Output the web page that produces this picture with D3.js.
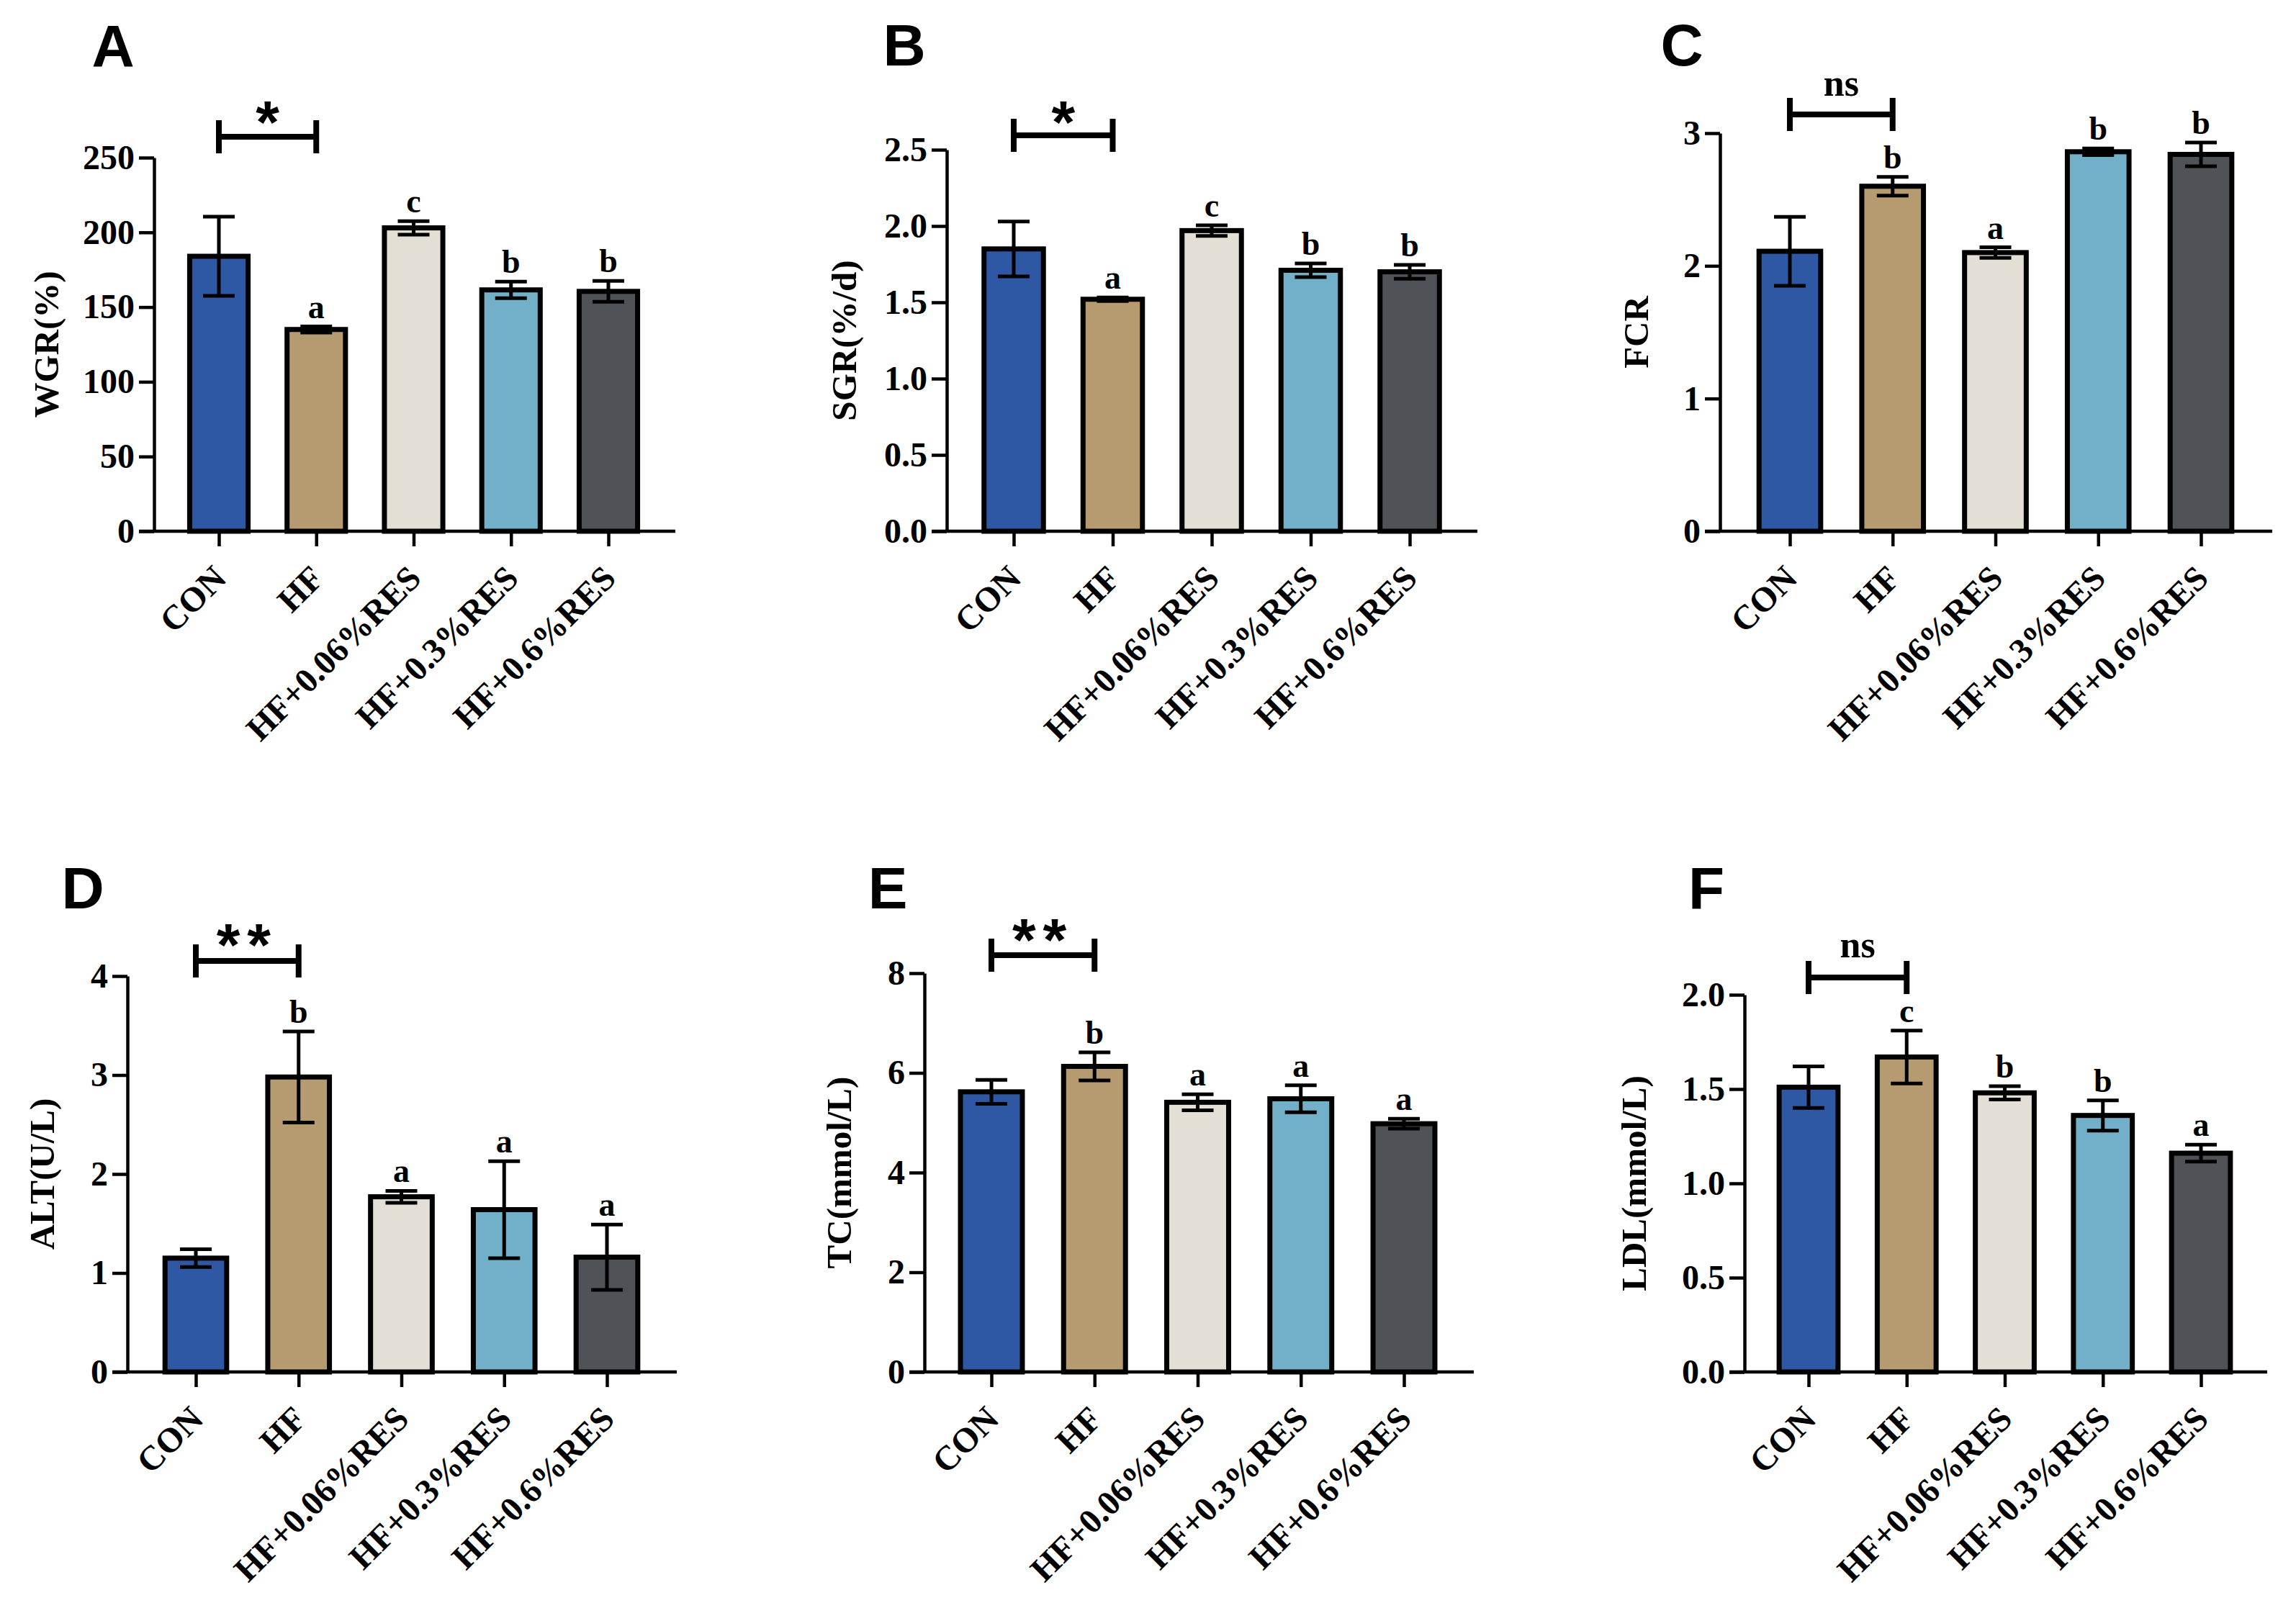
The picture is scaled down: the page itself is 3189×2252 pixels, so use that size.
<!DOCTYPE html>
<html>
<head>
<meta charset="utf-8">
<script src="https://cdn.jsdelivr.net/npm/d3@7"></script>
<style>
  body { margin: 0; background: #fff; }
  text { font-family: "Liberation Serif", "Times New Roman", serif; font-weight: bold; fill: #000; }
  .tag, .star { font-family: "Liberation Sans", Arial, sans-serif; }
</style>
</head>
<body>
<svg id="fig" width="3189" height="2252"></svg>
<script>
// Groups and colours
var groups = ["CON", "HF", "HF+0.06%RES", "HF+0.3%RES", "HF+0.6%RES"];
var colors = ["#2f58a4", "#b59b6f", "#e3dfd4", "#72afc9", "#4f5257"];

// Panel A - WGR
var wgrMean = [184, 135, 203, 161.5, 160.5];
var wgrSd = [26.5, 2, 4.5, 5.5, 7];
var wgrLetters = ["", "a", "c", "b", "b"];
var wgrTicks = [0, 50, 100, 150, 200, 250];

// Panel B - SGR
var sgrMean = [1.85, 1.52, 1.97, 1.71, 1.70];
var sgrSd = [0.18, 0.012, 0.035, 0.045, 0.045];
var sgrLetters = ["", "a", "c", "b", "b"];
var sgrTicks = [0, 0.5, 1.0, 1.5, 2.0, 2.5];

// Panel C - FCR
var fcrMean = [2.11, 2.60, 2.10, 2.86, 2.84];
var fcrSd = [0.26, 0.07, 0.04, 0.025, 0.09];
var fcrLetters = ["", "b", "a", "b", "b"];
var fcrTicks = [0, 1, 2, 3];

// Panel D - ALT
var altMean = [1.15, 2.98, 1.77, 1.64, 1.16];
var altSd = [0.09, 0.46, 0.06, 0.49, 0.33];
var altLetters = ["", "b", "a", "a", "a"];
var altTicks = [0, 1, 2, 3, 4];

// Panel E - TC
var tcMean = [5.62, 6.13, 5.41, 5.48, 4.98];
var tcSd = [0.24, 0.28, 0.16, 0.27, 0.10];
var tcLetters = ["", "b", "a", "a", "a"];
var tcTicks = [0, 2, 4, 6, 8];

// Panel F - LDL
var ldlMean = [1.51, 1.67, 1.48, 1.36, 1.16];
var ldlSd = [0.11, 0.14, 0.035, 0.08, 0.045];
var ldlLetters = ["", "c", "b", "b", "a"];
var ldlTicks = [0, 0.5, 1.0, 1.5, 2.0];

// CON vs HF comparison labels
var sigLabels = ["*", "*", "ns", "**", "**", "ns"];

var panels = [
  {tag: "A", title: "WGR(%)", mean: wgrMean, sd: wgrSd, letters: wgrLetters, ticks: wgrTicks, fmt: "d",
   x0: 214, x1: 938, c0: 304, c1: 845, yTop: 219, yZero: 738, tagX: 157, tagY: 92, titleX: 64, brY: 190, sigY: 199},
  {tag: "B", title: "SGR(%/d)", mean: sgrMean, sd: sgrSd, letters: sgrLetters, ticks: sgrTicks, fmt: ".1f",
   x0: 1315, x1: 2052, c0: 1408, c1: 1958, yTop: 208, yZero: 738, tagX: 1256, tagY: 91, titleX: 1172, brY: 188, sigY: 199},
  {tag: "C", title: "FCR", mean: fcrMean, sd: fcrSd, letters: fcrLetters, ticks: fcrTicks, fmt: "d",
   x0: 2389, x1: 3156, c0: 2486, c1: 3057, yTop: 185, yZero: 738, tagX: 2336, tagY: 91, titleX: 2272, brY: 159, sigY: 133},
  {tag: "D", title: "ALT(U/L)", mean: altMean, sd: altSd, letters: altLetters, ticks: altTicks, fmt: "d",
   x0: 177, x1: 940, c0: 272, c1: 843, yTop: 1356, yZero: 1906, tagX: 115, tagY: 1262, titleX: 58, brY: 1335, sigY: 1342},
  {tag: "E", title: "TC(mmol/L)", mean: tcMean, sd: tcSd, letters: tcLetters, ticks: tcTicks, fmt: "d",
   x0: 1284, x1: 2047, c0: 1377, c1: 1950, yTop: 1352, yZero: 1906, tagX: 1233, tagY: 1262, titleX: 1165, brY: 1327, sigY: 1335},
  {tag: "F", title: "LDL(mmol/L)", mean: ldlMean, sd: ldlSd, letters: ldlLetters, ticks: ldlTicks, fmt: ".1f",
   x0: 2423, x1: 3149, c0: 2512, c1: 3057, yTop: 1382, yZero: 1906, tagX: 2370, tagY: 1263, titleX: 2269, brY: 1358, sigY: 1330}
];

var svg = d3.select("#fig");
svg.append("rect").attr("width", 3189).attr("height", 2252).attr("fill", "#fff");

panels.forEach(function(p, i) {
  var g = svg.append("g");
  var ymax = p.ticks[p.ticks.length - 1];

  var x = d3.scalePoint().domain(groups).range([p.c0, p.c1]);
  var y = d3.scaleLinear().domain([0, ymax]).range([p.yZero, p.yTop]);
  var step = x.step();
  var bw = step * 0.6;

  // bars
  g.selectAll("rect.bar")
    .data(groups)
    .enter()
    .append("rect")
    .attr("class", "bar")
    .attr("x", (d) => x(d) - bw / 2)
    .attr("y", (d, j) => y(p.mean[j]))
    .attr("width", bw)
    .attr("height", (d, j) => p.yZero - y(p.mean[j]))
    .attr("fill", (d, j) => colors[j])
    .attr("stroke", "#000")
    .attr("stroke-width", 7);

  // error bars
  var eb = g.selectAll("g.err")
    .data(groups)
    .enter()
    .append("g")
    .attr("class", "err")
    .attr("stroke", "#000")
    .attr("stroke-width", 5);
  eb.append("line")
    .attr("x1", (d) => x(d)).attr("x2", (d) => x(d))
    .attr("y1", (d, j) => y(p.mean[j] - p.sd[j]))
    .attr("y2", (d, j) => y(p.mean[j] + p.sd[j]));
  eb.append("line")
    .attr("x1", (d) => x(d) - 22).attr("x2", (d) => x(d) + 22)
    .attr("y1", (d, j) => y(p.mean[j] + p.sd[j]))
    .attr("y2", (d, j) => y(p.mean[j] + p.sd[j]));
  eb.append("line")
    .attr("x1", (d) => x(d) - 22).attr("x2", (d) => x(d) + 22)
    .attr("y1", (d, j) => y(p.mean[j] - p.sd[j]))
    .attr("y2", (d, j) => y(p.mean[j] - p.sd[j]));

  // letters above error bars
  g.selectAll("text.letter")
    .data(groups)
    .enter()
    .append("text")
    .attr("class", "letter")
    .attr("x", (d) => x(d))
    .attr("y", (d, j) => y(p.mean[j] + p.sd[j]) - 12)
    .attr("text-anchor", "middle")
    .attr("font-size", 46)
    .text((d, j) => p.letters[j]);

  // y axis
  var yAxis = d3.axisLeft(y)
    .tickValues(p.ticks)
    .tickFormat(d3.format(p.fmt))
    .tickSize(21)
    .tickPadding(6)
    .tickSizeOuter(0);
  var ya = g.append("g")
    .attr("transform", "translate(" + p.x0 + ",0)")
    .call(yAxis);
  ya.selectAll("path, line").attr("stroke", "#000").attr("stroke-width", 4.5);
  ya.selectAll("text")
    .attr("font-size", 48)
    .style("font-family", '"Liberation Serif", "Times New Roman", serif')
    .style("font-weight", "bold");

  // x axis
  var xAxis = d3.axisBottom(x).tickSize(21).tickSizeOuter(0).tickFormat("");
  var xa = g.append("g")
    .attr("transform", "translate(0," + p.yZero + ")")
    .call(xAxis);
  xa.select("path.domain").remove();
  xa.append("line")
    .attr("x1", p.x0 - 21).attr("x2", p.x1)
    .attr("stroke", "#000").attr("stroke-width", 4.5);
  xa.selectAll("line").attr("stroke", "#000").attr("stroke-width", 4.5);

  // rotated category labels
  g.selectAll("text.cat")
    .data(groups)
    .enter()
    .append("text")
    .attr("class", "cat")
    .attr("font-size", 48)
    .attr("text-anchor", "end")
    .attr("transform", (d) => "translate(" + (x(d) + 13) + "," + (p.yZero + 68) + ") rotate(-45)")
    .text((d) => d);

  // y title
  g.append("text")
    .attr("font-size", 49)
    .attr("text-anchor", "middle")
    .attr("dy", "0.35em")
    .attr("transform", "translate(" + p.titleX + "," + (p.yTop + p.yZero) / 2 + ") rotate(-90)")
    .text(p.title);

  // panel tag
  g.append("text")
    .attr("class", "tag")
    .attr("x", p.tagX)
    .attr("y", p.tagY)
    .attr("text-anchor", "middle")
    .attr("font-size", 82)
    .text(p.tag);

  // CON vs HF bracket
  var bx1 = x(groups[0]), bx2 = x(groups[1]);
  var br = g.append("g").attr("stroke", "#000").attr("stroke-width", 8);
  br.append("line").attr("x1", bx1).attr("x2", bx2).attr("y1", p.brY).attr("y2", p.brY);
  br.append("line").attr("x1", bx1).attr("x2", bx1).attr("y1", p.brY - 23).attr("y2", p.brY + 23);
  br.append("line").attr("x1", bx2).attr("x2", bx2).attr("y1", p.brY - 23).attr("y2", p.brY + 23);

  var sig = sigLabels[i];
  var st = g.append("text")
    .attr("x", (bx1 + bx2) / 2)
    .attr("y", p.sigY)
    .attr("text-anchor", "middle")
    .text(sig);
  if (sig == "ns") {
    st.attr("font-size", 52);
  } else {
    st.attr("class", "star").attr("font-size", 84).attr("letter-spacing", sig.length > 1 ? 10 : 0);
  }
});
</script>
</body>
</html>
